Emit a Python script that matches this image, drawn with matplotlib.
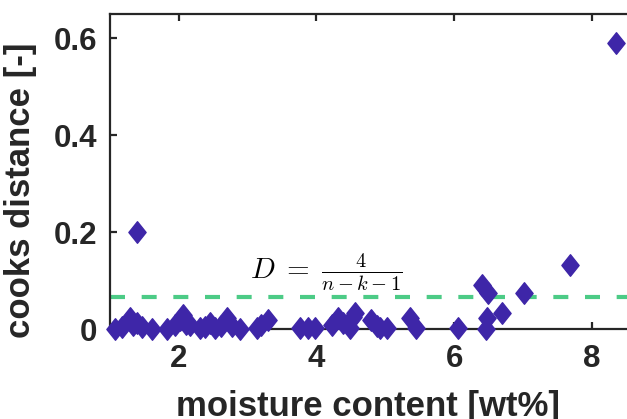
import numpy as np
import matplotlib
matplotlib.use('Agg')
import matplotlib.pyplot as plt
from matplotlib.path import Path

# moisture content [wt%] and cooks distance
moisture = [1.07, 1.18, 1.29, 1.33, 1.39, 1.46, 1.61, 1.83, 1.94, 2.01,
            2.06, 2.10, 2.16, 2.31, 2.38, 2.45, 2.52, 2.62, 2.70, 2.78,
            2.89, 3.13, 3.20, 3.29, 3.76, 3.88, 3.98, 4.22, 4.31, 4.38,
            4.49, 4.53, 4.56, 4.80, 4.88, 4.92, 5.02, 5.36, 5.44, 6.06,
            6.40, 6.46, 6.48, 6.49, 6.69, 7.01, 7.68, 8.35, 1.39]
cooks = [0.000, 0.004, 0.023, 0.008, 0.012, 0.004, 0.000, 0.000, 0.008, 0.019,
         0.029, 0.010, 0.008, 0.002, 0.004, 0.012, 0.002, 0.006, 0.023, 0.006,
         0.000, 0.002, 0.008, 0.019, 0.002, 0.002, 0.002, 0.008, 0.023, 0.012,
         0.002, 0.025, 0.033, 0.019, 0.006, 0.002, 0.002, 0.023, 0.002, 0.002,
         0.091, 0.000, 0.023, 0.074, 0.033, 0.074, 0.132, 0.590, 0.200]
threshold = 4 / 61

xticks = [2, 4, 6, 8]
yticks = [0, 0.2, 0.4, 0.6]

blue = '#3E26A8'
green = '#4CCB86'
dark = '#262626'

plt.rcParams['font.family'] = ['Liberation Sans', 'DejaVu Sans']
plt.rcParams['mathtext.fontset'] = 'cm'

# matlab style diamond (a bit narrower than tall)
diamond = Path([(0, 1), (0.8, 0), (0, -1), (-0.8, 0), (0, 1)],
               [Path.MOVETO, Path.LINETO, Path.LINETO, Path.LINETO, Path.CLOSEPOLY])

fig = plt.figure(figsize=(6.27, 4.19), dpi=100)
ax = fig.add_axes([110 / 627, 90 / 419, 523 / 627, 315 / 419])

ax.axhline(threshold, color=green, lw=3, dashes=(3.6, 4.0), zorder=1)
ax.plot(moisture, cooks, ls='none', marker=diamond, ms=15.5,
        mfc=blue, mec=blue, clip_on=False, zorder=3)

ax.text(3.03, 0.118, r'$D\;=\;\frac{4}{n-k-1}$', fontsize=21,
        ha='left', va='center', color='black')

ax.set_xlim(1, 8.6)
ax.set_ylim(0, 0.65)
ax.set_xticks(xticks)
ax.set_yticks(yticks)
ax.set_xticklabels([str(t) for t in xticks])
ax.set_yticklabels(['0', '0.2', '0.4', '0.6'])

for s in ax.spines.values():
    s.set_linewidth(1.6)
    s.set_color(dark)
ax.tick_params(direction='in', length=5, width=1.6, color=dark,
               top=True, right=False, labelsize=22.5, labelcolor=dark)
ax.tick_params(axis='x', pad=11)
ax.tick_params(axis='y', pad=9)
for lab in ax.get_xticklabels() + ax.get_yticklabels():
    lab.set_fontweight('bold')

ax.set_xlabel('moisture content [wt%]', fontsize=25, fontweight='bold', color=dark)
ax.set_ylabel('cooks distance [-]', fontsize=25, fontweight='bold', color=dark)
ax.xaxis.set_label_coords(0.493, -0.195)
ax.yaxis.set_label_coords(-0.14, 0.44)

fig.savefig('out.png', dpi=100)
plt.close(fig)
